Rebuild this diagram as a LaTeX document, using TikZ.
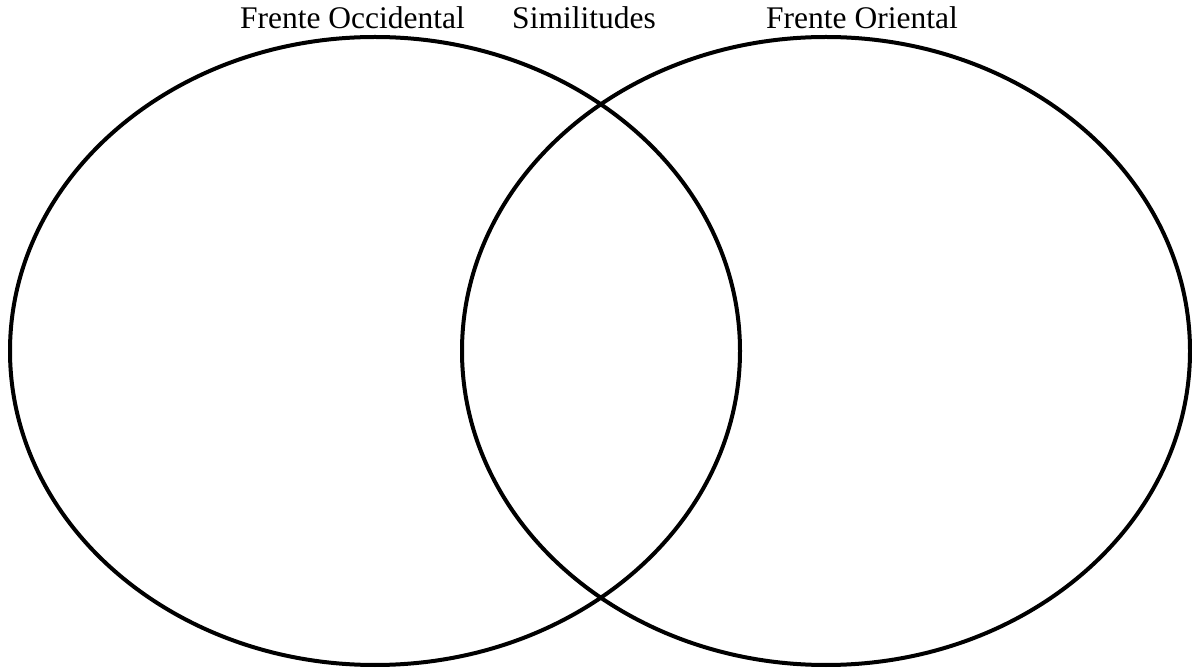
\documentclass[tikz,border=0pt]{standalone}
\usepackage{fontspec}
\setmainfont{Liberation Serif}
\begin{document}
\begin{tikzpicture}[x=1pt, y=1pt,
    setline/.style={line width=4pt, black},
    setlabel/.style={font=\fontsize{31.5}{36}\selectfont, anchor=base, inner sep=0pt}]
    \useasboundingbox (0,0) rectangle (1192,670);

    % Sets
    \draw[setline] (375,319) ellipse [x radius=365, y radius=314];
    \draw[setline] (826,319) ellipse [x radius=364, y radius=314];

    % Labels
    \node[setlabel] (west) at (352.5,641) {Frente Occidental};
    \node[setlabel] (common) at (584,641) {Similitudes};
    \node[setlabel] (east) at (862,641) {Frente Oriental};
\end{tikzpicture}
\end{document}
